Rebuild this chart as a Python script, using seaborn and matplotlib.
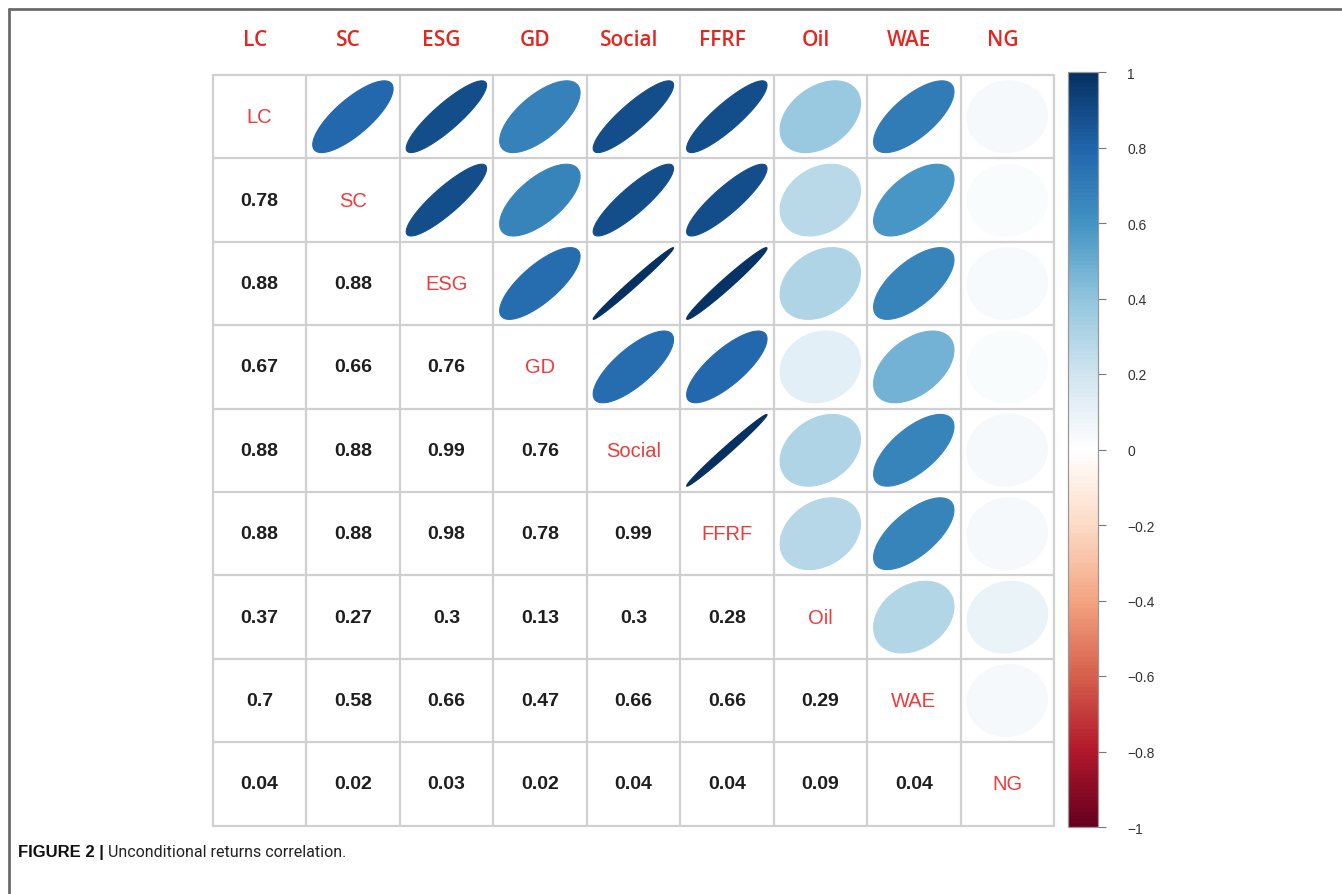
import numpy as np
import pandas as pd
import matplotlib
matplotlib.use("Agg")
import matplotlib.pyplot as plt
from matplotlib.colors import LinearSegmentedColormap
from matplotlib.patches import Polygon
from matplotlib.lines import Line2D
from matplotlib.ticker import FixedLocator, FuncFormatter
import seaborn as sns

# ---- data -------------------------------------------------------------
variables = ["LC", "SC", "ESG", "GD", "Social", "FFRF", "Oil", "WAE", "NG"]

# lower-triangle correlations, one list per row (entries left of the diagonal)
r_SC = [0.78]
r_ESG = [0.88, 0.88]
r_GD = [0.67, 0.66, 0.76]
r_Social = [0.88, 0.88, 0.99, 0.76]
r_FFRF = [0.88, 0.88, 0.98, 0.78, 0.99]
r_Oil = [0.37, 0.27, 0.30, 0.13, 0.30, 0.28]
r_WAE = [0.70, 0.58, 0.66, 0.47, 0.66, 0.66, 0.29]
r_NG = [0.04, 0.02, 0.03, 0.02, 0.04, 0.04, 0.09, 0.04]

cbar_ticks = [-1, -0.8, -0.6, -0.4, -0.2, 0, 0.2, 0.4, 0.6, 0.8, 1]

# ---- full symmetric matrix ---------------------------------------------
lower_rows = [[], r_SC, r_ESG, r_GD, r_Social, r_FFRF, r_Oil, r_WAE, r_NG]
n = len(variables)
corr = np.eye(n)
for i, row in enumerate(lower_rows):
    for j, v in enumerate(row):
        corr[i, j] = v
        corr[j, i] = v
corr_df = pd.DataFrame(corr, index=variables, columns=variables)

# diverging palette (RdBu ramp with a pure white centre)
rdbu = ["#67001F", "#B2182B", "#D6604D", "#F4A582", "#FDDBC7", "#FFFFFF",
        "#D1E5F0", "#92C5DE", "#4393C3", "#2166AC", "#053061"]
cmap = LinearSegmentedColormap.from_list("rdbu_ramp", rdbu, N=200)

# ---- figure -------------------------------------------------------------
sns.set_style("white")
plt.rcParams["font.family"] = ["Liberation Sans", "DejaVu Sans"]

W, H = 1342, 895
fig = plt.figure(figsize=(W / 100, H / 100), dpi=100)
ax = fig.add_axes([212.7 / W, 1 - 826.6 / H, 841.3 / W, 750.6 / H])
cax = fig.add_axes([1068 / W, 1 - 828 / H, 30 / W, 755 / H])

sns.heatmap(corr_df, mask=np.ones_like(corr, dtype=bool), cmap=cmap,
            vmin=-1, vmax=1, ax=ax, cbar_ax=cax,
            xticklabels=False, yticklabels=False)

# cell grid
grid_kw = dict(color="#d0d0d0", lw=1.6, clip_on=False, zorder=1)
for k in range(n + 1):
    ax.axhline(k, **grid_kw)
    ax.axvline(k, **grid_kw)

# ellipse outline for a given correlation (unit cell, scaled to 0.86)
t = np.linspace(0, 2 * np.pi, 120)


def ellipse_xy(rho):
    a = np.arccos(rho)
    ex = 0.86 * np.cos(t + a / 2) / 2
    ey = 0.86 * np.cos(t - a / 2) / 2
    return ex, ey


num_red = "#EE3B3B"
for i in range(n):
    for j in range(n):
        v = corr[i, j]
        cx, cy = j + 0.5, i + 0.5
        if i == j:
            ax.text(cx, cy, variables[i], ha="center", va="center",
                    fontsize=14.5, color=num_red)
        elif i > j:
            ax.text(cx, cy, f"{v:g}", ha="center", va="center",
                    fontsize=14, fontweight="bold", color="#1e1e1e")
        else:
            ex, ey = ellipse_xy(v)
            poly = Polygon(np.column_stack([cx + ex, cy - ey]), closed=True,
                           facecolor=cmap((v + 1) / 2),
                           edgecolor=cmap((v + 1) / 2), lw=0.8, zorder=2)
            ax.add_patch(poly)

# column labels above the grid
for j, name in enumerate(variables):
    ax.text(j + 0.45, -0.43, name, ha="center", va="center", fontsize=15,
            fontweight="semibold", color="#E3261F",
            family=["Open Sans", "DejaVu Sans"], clip_on=False)

# colour bar
cbar = ax.collections[0].colorbar
cax.yaxis.set_major_locator(FixedLocator(cbar_ticks))
cax.yaxis.set_major_formatter(
    FuncFormatter(lambda v, p: f"{v:g}".replace("-", "\u2212")))
cax.yaxis.set_ticks_position("right")
cax.tick_params(axis="y", length=6, width=0.8, color="#777777", pad=15,
                labelsize=10, labelcolor="#333333")
if cbar is not None:
    cbar.outline.set_visible(True)
    cbar.outline.set_edgecolor("#999999")
    cbar.outline.set_linewidth(0.9)

# open frame along top and left of the page
frame_kw = dict(color="#6b6b6b", lw=2.0, transform=fig.transFigure)
fig.add_artist(Line2D([9 / W, 1.0], [1 - 10 / H, 1 - 10 / H], **frame_kw))
fig.add_artist(Line2D([9 / W, 9 / W], [0.0, 1 - 10 / H], **frame_kw))

# caption
t1 = fig.text(18 / W, 1 - 853 / H, "FIGURE 2 |", fontsize=12,
              fontweight="bold", family=["Liberation Sans", "DejaVu Sans"],
              va="center", ha="left", color="#111111")
ax.annotate(" Unconditional returns correlation.", xy=(1, 0),
            xycoords=t1, va="bottom", ha="left", fontsize=11.5,
            family=["Roboto", "Liberation Sans", "DejaVu Sans"],
            color="#222222", annotation_clip=False)

fig.savefig("out.png", dpi=100, facecolor="white")
